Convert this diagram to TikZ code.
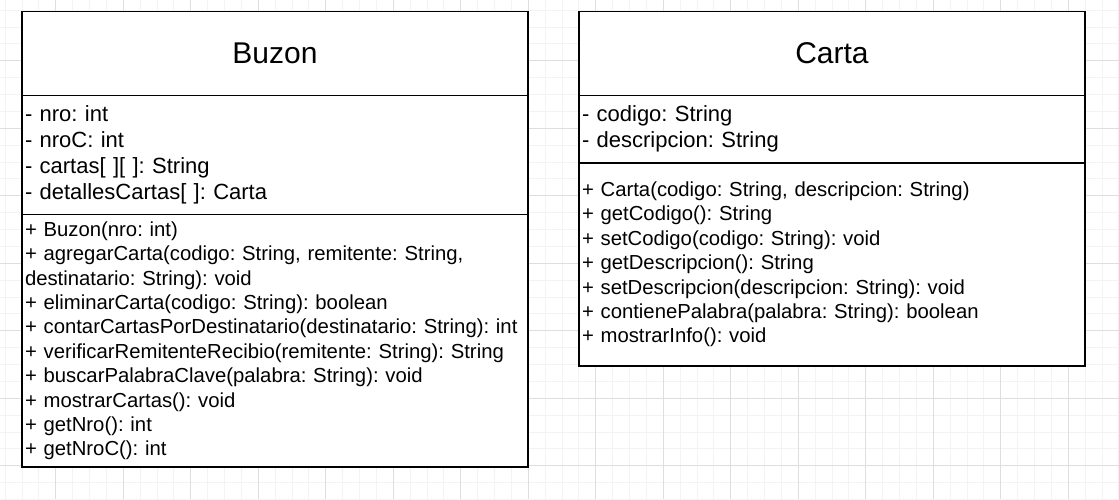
\documentclass[tikz,border=0pt]{standalone}
\usepackage{fontspec}
\setmainfont{Liberation Sans}
\frenchspacing
\usetikzlibrary{positioning}
\definecolor{gridmajor}{HTML}{DEDEDE}
\definecolor{gridminor}{HTML}{F3F3F3}
\tikzset{font=\fontsize{20.3}{24.4}\selectfont}
\tikzset{classpart/.style={draw, line width=1.4pt, fill=white, outer sep=0pt,
    inner xsep=3pt, inner ysep=0pt, align=left, text width=500pt}}
\tikzset{classtitle/.style={classpart, align=center, font=\fontsize{30}{36}\selectfont}}
\tikzset{classattrs/.style={classpart, font=\fontsize{22}{26}\selectfont}}
\tikzset{classops/.style={classpart}}

\begin{document}
\begin{tikzpicture}[x=1pt,y=-1pt]
  \useasboundingbox[fill=white] (0,0) rectangle (1119,499);

  % grid
  \foreach \i in {0,...,66}
    \draw[gridminor, line width=1pt] ({5.2+16.875*\i},0) -- ({5.2+16.875*\i},499);
  \foreach \i in {0,...,29}
    \draw[gridminor, line width=1pt] (0,{10.2+16.875*\i}) -- (1119,{10.2+16.875*\i});
  \foreach \i in {0,...,15}
    \draw[gridmajor, line width=1pt] ({55.8+67.5*\i},0) -- ({55.8+67.5*\i},499);
  \foreach \i in {0,...,6}
    \draw[gridmajor, line width=1pt] (0,{60.8+67.5*\i}) -- (1119,{60.8+67.5*\i});

  % Buzon
  \node[classtitle, minimum height=84pt, anchor=north west] (buzonTitle) at (22,11.5) {Buzon};
  \node[classattrs, minimum height=119pt, below=0pt of buzonTitle] (buzonAttrs)
  {- nro: int\\- nroC: int\\- cartas[ ][ ]: String\\- detallesCartas[ ]: Carta};
  \node[classops, minimum height=252.5pt, below=0pt of buzonAttrs] (buzonOps)
  {+ Buzon(nro: int)\\
    + agregarCarta(codigo: String, remitente: String,\\
    destinatario: String): void\\
    + eliminarCarta(codigo: String): boolean\\
    + contarCartasPorDestinatario(destinatario: String): int\\
    + verificarRemitenteRecibio(remitente: String): String\\
    + buscarPalabraClave(palabra: String): void\\
    + mostrarCartas(): void\\
    + getNro(): int\\
    + getNroC(): int};

  % Carta
  \node[classtitle, minimum height=84pt, anchor=north west] (cartaTitle) at (579,11.5) {Carta};
  \node[classattrs, minimum height=67.5pt, below=0pt of cartaTitle] (cartaAttrs)
  {- codigo: String\\- descripcion: String};
  \node[classops, minimum height=203pt, below=0pt of cartaAttrs] (cartaOps)
  {+ Carta(codigo: String, descripcion: String)\\
    + getCodigo(): String\\
    + setCodigo(codigo: String): void\\
    + getDescripcion(): String\\
    + setDescripcion(descripcion: String): void\\
    + contienePalabra(palabra: String): boolean\\
    + mostrarInfo(): void};
\end{tikzpicture}
\end{document}
